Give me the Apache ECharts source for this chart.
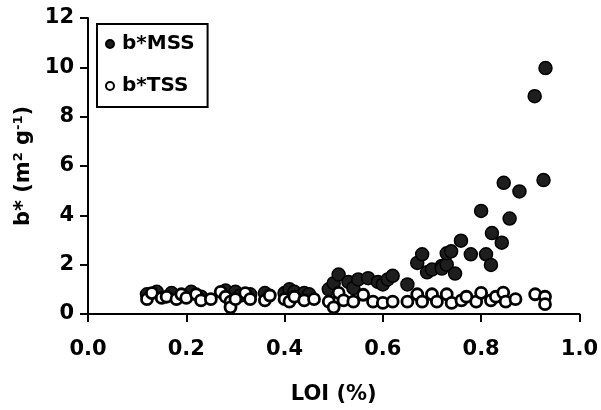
<!DOCTYPE html>
<html>
<head>
<meta charset="utf-8">
<script src="https://cdn.jsdelivr.net/npm/echarts@6/dist/echarts.min.js"></script>
<style>html,body{margin:0;padding:0;background:#fff}#c{width:601px;height:410px}</style>
</head>
<body>
<div id="c"></div>
<script>
const xTicks = [0.0, 0.2, 0.4, 0.6, 0.8, 1.0];
const yTicks = [0, 2, 4, 6, 8, 10, 12];
const seriesNames = ['b*MSS', 'b*TSS'];
const mssLOI = [0.12,0.14,0.17,0.19,0.21,0.23,0.28,0.30,0.31,0.33,0.36,0.40,0.41,0.42,0.44,0.45,
  0.49,0.50,0.51,0.53,0.54,0.55,0.57,0.59,0.60,0.61,0.62,
  0.65,0.67,0.68,0.69,0.70,0.72,0.72,0.73,0.73,0.739,0.747,0.759,0.779,0.80,0.81,0.82,0.822,0.842,0.846,0.858,0.878,0.909,0.927,0.931];
const mssB = [0.8,0.9,0.85,0.75,0.9,0.7,0.95,0.9,0.75,0.8,0.85,0.85,1.0,0.9,0.85,0.8,
  1.0,1.25,1.6,1.3,1.05,1.4,1.45,1.3,1.2,1.4,1.55,
  1.2,2.07,2.42,1.69,1.8,1.95,1.84,2.0,2.46,2.54,1.64,2.97,2.42,4.18,2.42,1.99,3.28,2.89,5.32,3.87,4.97,8.83,5.43,9.97];
const tssLOI = [0.12,0.13,0.15,0.16,0.18,0.19,0.20,0.22,0.23,0.25,0.27,0.28,0.29,0.29,0.30,0.32,0.33,0.36,0.37,0.40,0.41,0.42,0.44,0.46,
  0.49,0.50,0.51,0.52,0.54,0.56,0.58,0.60,0.62,0.65,0.67,0.68,0.70,0.71,0.73,0.74,0.76,0.77,0.79,0.80,0.82,0.83,0.845,0.85,0.87,0.91,0.93,0.93];
const tssB = [0.6,0.85,0.65,0.7,0.6,0.8,0.65,0.8,0.55,0.6,0.9,0.7,0.5,0.27,0.6,0.85,0.6,0.55,0.75,0.6,0.5,0.7,0.55,0.6,
  0.5,0.27,0.86,0.55,0.5,0.78,0.5,0.45,0.5,0.5,0.8,0.5,0.8,0.5,0.8,0.45,0.55,0.7,0.5,0.86,0.55,0.7,0.87,0.5,0.6,0.8,0.7,0.4];

const zip = (a, b) => a.map((v, i) => [v, b[i]]);
const FONT = 'DejaVu Sans';
const chart = echarts.init(document.getElementById('c'), null, {renderer: 'canvas'});
chart.setOption({
  animation: false,
  backgroundColor: '#fff',
  grid: {left: 88, right: 19, top: 18, bottom: 85, containLabel: false},
  legend: {
    orient: 'vertical', left: 97, top: 24,
    data: seriesNames,
    itemWidth: 14, itemHeight: 8, itemGap: 22,
    padding: [10, 13, 11, 8],
    borderColor: '#000', borderWidth: 2, backgroundColor: '#fff',
    textStyle: {fontFamily: FONT, fontWeight: 'bold', fontSize: 20, color: '#000'}
  },
  xAxis: {
    type: 'value', min: 0, max: 1, interval: 0.2,
    name: 'LOI (%)', nameLocation: 'middle', nameGap: 70,
    nameTextStyle: {fontFamily: FONT, fontWeight: 'bold', fontSize: 21, color: '#000'},
    axisLine: {show: true, lineStyle: {color: '#000', width: 2}},
    axisTick: {show: true, inside: false, length: 8, lineStyle: {color: '#000', width: 2}},
    axisLabel: {margin: 25, fontFamily: FONT, fontWeight: 'bold', fontSize: 21, color: '#000',
      formatter: v => xTicks.find(t => Math.abs(t - v) < 1e-9).toFixed(1)},
    splitLine: {show: false}
  },
  yAxis: {
    type: 'value', min: 0, max: 12, interval: 2,
    name: 'b* (m{sup|2} g{sup|-1})', nameLocation: 'middle', nameGap: 50, nameRotate: 90,
    nameTextStyle: {fontFamily: FONT, fontWeight: 'bold', fontSize: 21, color: '#000',
      rich: {sup: {fontFamily: FONT, fontWeight: 'bold', fontSize: 13, color: '#000', verticalAlign: 'top', padding: [0, 0, 10, 0]}}},
    axisLine: {show: true, lineStyle: {color: '#000', width: 2}},
    axisTick: {show: true, inside: false, length: 8, lineStyle: {color: '#000', width: 2}},
    axisLabel: {margin: 14, fontFamily: FONT, fontWeight: 'bold', fontSize: 21, color: '#000',
      formatter: v => String(yTicks.find(t => t === v))},
    splitLine: {show: false}
  },
  series: [
    {name: seriesNames[0], type: 'scatter', symbol: 'circle', symbolSize: 13,
      data: zip(mssLOI, mssB),
      itemStyle: {color: '#1e1e1e', borderColor: '#000', borderWidth: 1.5, opacity: 1}},
    {name: seriesNames[1], type: 'scatter', symbol: 'circle', symbolSize: 11,
      data: zip(tssLOI, tssB),
      itemStyle: {color: '#fff', borderColor: '#000', borderWidth: 2.8, opacity: 1}}
  ]
});
</script>
</body>
</html>
